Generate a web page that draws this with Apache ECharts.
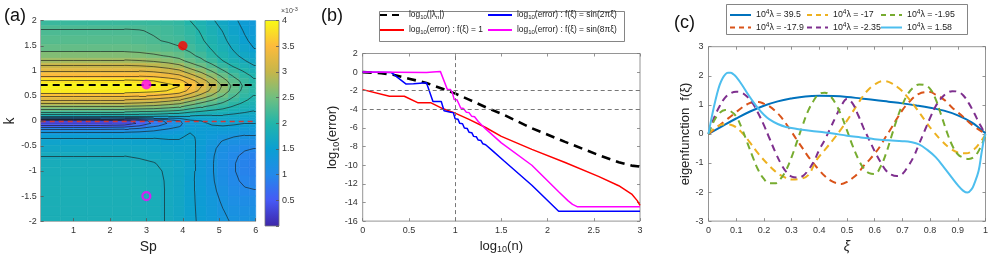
<!DOCTYPE html>
<html><head><meta charset="utf-8">
<script src="https://cdn.jsdelivr.net/npm/echarts@6.0.0/dist/echarts.min.js"></script>
<style>html,body{margin:0;padding:0;background:#fff;}#chart{width:998px;height:259px;}</style>
</head><body><div id="chart"></div>
<script>
// ---------------- Panel (a): field on (Sp, k) grid, values in units of 1e-3 ----------------
const spCols = [0.3, 1.0, 1.75, 2.4, 2.8, 3.2, 3.6, 3.9, 4.2, 4.5, 4.8, 5.1, 5.4, 5.7, 5.95];
const kRows = [2.0, 1.8, 1.6, 1.45, 1.3, 1.2, 1.1, 1.0, 0.9, 0.8, 0.7, 0.6, 0.5, 0.42, 0.35, 0.28, 0.22, 0.16, 0.1, 0.05, 0.0, -0.05, -0.1, -0.16, -0.24, -0.32, -0.42, -0.55, -0.7, -0.85, -1.0, -1.2, -1.4, -1.6, -1.8, -2.0];
const fieldCols = [
  [2.15,2.27,2.33,2.42,2.6,2.78,3.02,3.25,3.5,3.8, 3.95,3.88,3.55,3.25,3.0,2.7,2.45,2.15,1.85,1.2, 0.35,0.25,0.55,0.95,1.3,1.48,1.58,1.66,1.75,1.8, 1.82,1.84,1.85,1.85,1.85,1.85],
  [2.15,2.27,2.33,2.42,2.6,2.78,3.02,3.25,3.5,3.8, 3.95,3.88,3.55,3.25,3.0,2.7,2.45,2.15,1.85,1.2, 0.35,0.25,0.55,0.95,1.3,1.48,1.58,1.66,1.75,1.8, 1.82,1.84,1.85,1.85,1.85,1.85],
  [2.15,2.27,2.33,2.42,2.6,2.78,3.02,3.25,3.5,3.8, 3.95,3.88,3.55,3.25,3.0,2.7,2.45,2.15,1.85,1.2, 0.35,0.25,0.55,0.95,1.3,1.48,1.58,1.66,1.75,1.8, 1.82,1.84,1.85,1.85,1.85,1.85],
  [2.15,2.27,2.33,2.42,2.6,2.78,3.02,3.25,3.5,3.8, 3.95,3.88,3.55,3.25,3.0,2.7,2.45,2.15,1.85,1.25, 0.42,0.32,0.6,0.98,1.3,1.48,1.58,1.66,1.75,1.8, 1.82,1.84,1.85,1.85,1.85,1.85],
  [2.15,2.26,2.3,2.4,2.58,2.76,3.0,3.24,3.48,3.78, 3.93,3.86,3.52,3.22,2.97,2.68,2.42,2.13,1.85,1.3, 0.6,0.55,0.75,1.05,1.32,1.48,1.57,1.65,1.73,1.79, 1.81,1.83,1.84,1.84,1.84,1.84],
  [2.14,2.23,2.27,2.36,2.54,2.72,2.96,3.2,3.45,3.75, 3.9,3.82,3.48,3.18,2.93,2.65,2.4,2.12,1.85,1.38, 0.85,0.8,0.95,1.15,1.35,1.48,1.56,1.63,1.7,1.76, 1.79,1.8,1.81,1.81,1.81,1.81],
  [2.13,2.2,2.23,2.32,2.48,2.65,2.88,3.12,3.38,3.65, 3.82,3.74,3.4,3.1,2.85,2.58,2.35,2.08,1.8,1.45, 1.08,1.02,1.1,1.25,1.38,1.47,1.53,1.6,1.66,1.7, 1.72,1.73,1.73,1.73,1.73,1.73],
  [2.1,2.16,2.2,2.27,2.42,2.57,2.8,3.04,3.3,3.58, 3.76,3.66,3.32,3.02,2.78,2.52,2.3,2.04,1.78,1.5, 1.22,1.18,1.22,1.32,1.42,1.48,1.52,1.57,1.62,1.65, 1.66,1.67,1.67,1.67,1.67,1.67],
  [2.0,2.08,2.12,2.2,2.3,2.42,2.62,2.85,3.1,3.36, 3.52,3.42,3.12,2.85,2.62,2.38,2.18,1.95,1.75,1.6, 1.45,1.42,1.42,1.45,1.5,1.53,1.55,1.56,1.57,1.57, 1.56,1.55,1.55,1.55,1.55,1.55],
  [1.9,1.98,2.03,2.1,2.2,2.3,2.47,2.68,2.9,3.12, 3.27,3.18,2.92,2.68,2.47,2.27,2.1,1.9,1.72,1.6, 1.5,1.47,1.46,1.46,1.46,1.46,1.45,1.44,1.43,1.42, 1.42,1.42,1.43,1.44,1.45,1.46],
  [1.78,1.86,1.92,1.98,2.06,2.15,2.3,2.48,2.68,2.88, 3.0,2.93,2.72,2.52,2.35,2.17,2.02,1.86,1.72,1.62, 1.55,1.52,1.49,1.46,1.42,1.38,1.34,1.3,1.28,1.27, 1.27,1.28,1.3,1.33,1.36,1.38],
  [1.66,1.74,1.8,1.86,1.93,2.0,2.12,2.27,2.44,2.6, 2.72,2.66,2.5,2.35,2.22,2.08,1.96,1.83,1.72,1.65, 1.58,1.54,1.5,1.45,1.38,1.3,1.23,1.17,1.13,1.12, 1.12,1.14,1.18,1.22,1.26,1.29],
  [1.54,1.6,1.66,1.72,1.8,1.87,1.97,2.1,2.22,2.35, 2.42,2.38,2.27,2.17,2.07,1.97,1.88,1.78,1.7,1.64, 1.58,1.53,1.48,1.42,1.34,1.25,1.16,1.08,1.03,1.01, 1.01,1.03,1.07,1.13,1.18,1.22],
  [1.43,1.48,1.53,1.6,1.68,1.76,1.86,1.97,2.07,2.16, 2.2,2.17,2.1,2.03,1.96,1.89,1.82,1.74,1.67,1.61, 1.56,1.5,1.45,1.38,1.3,1.21,1.11,1.02,0.96,0.94, 0.94,0.97,1.02,1.1,1.16,1.2],
  [1.36,1.4,1.45,1.5,1.58,1.66,1.76,1.86,1.96,2.03, 2.07,2.05,1.99,1.94,1.89,1.83,1.77,1.71,1.65,1.6, 1.55,1.5,1.45,1.38,1.3,1.21,1.1,1.0,0.93,0.9, 0.91,0.95,1.01,1.1,1.17,1.22]
];
const spRange = [0.1, 6];
const kRange = [-2, 2];
const contourLevels = [0.5, 0.75, 1, 1.25, 1.5, 1.75, 2, 2.25, 2.5, 2.75, 3, 3.25, 3.5, 3.75];
const aXTicks = [1, 2, 3, 4, 5, 6];
const aDashedK = 0.725;     // black dashed line
const aZeroK = 0;           // red dashed line
const aPointFilledMagenta = [3, 0.725];
const aPointRed = [4, 1.5];
const aPointOpenMagenta = [3, -1.5];
const colorbarRange = [0, 4];

// ---------------- Panel (b) ----------------
const bLambda = [[0,0],[0.2,-0.12],[0.33,-0.29],[0.5,-0.7],[0.69,-1.17],[0.87,-1.81],[1.01,-2.34],[1.15,-2.95],[1.37,-3.94],[1.53,-4.6],[1.83,-6.03],[2.19,-7.49],[2.55,-8.9],[2.77,-9.68],[2.91,-10.04],[3,-10.15]];
const bErrOne = [[0,-1.88],[0.29,-2.59],[0.45,-2.59],[0.6,-3.3],[0.74,-3.3],[0.87,-3.94],[1.0,-4.4],[1.15,-5.07],[1.33,-5.95],[1.5,-6.9],[1.83,-8.3],[2.19,-9.7],[2.55,-11.2],[2.77,-12.2],[2.91,-13.1],[2.97,-13.8],[3,-14.3]];
const bErrSin2 = [[0,0],[0.31,-0.05],[0.47,-1.28],[0.55,-1.25],[0.69,-1.15],[0.71,-1.3],[0.76,-3.15],[0.85,-3.15],[0.88,-4.15],[0.95,-4.3],[0.98,-4.35],[1.0,-5.0],[1.03,-5.05],[1.05,-5.5],[1.08,-5.55],[1.1,-6.0],[1.13,-6.05],[1.15,-6.45],[1.18,-6.5],[1.2,-6.9],[1.23,-6.95],[1.25,-7.3],[1.28,-7.35],[1.3,-7.7],[1.33,-7.8],[1.4,-8.4],[1.53,-9.55],[1.83,-12.15],[2.12,-14.94],[3,-14.94]];
const bErrSin8 = [[0,0],[0.69,-0.04],[0.76,0.02],[0.84,0.08],[0.85,0.05],[0.915,-1.85],[0.95,-1.87],[0.97,-2.2],[0.99,-2.95],[1.02,-2.98],[1.04,-3.4],[1.06,-3.85],[1.09,-3.9],[1.12,-4.3],[1.15,-4.35],[1.18,-4.75],[1.21,-4.8],[1.25,-5.3],[1.33,-6.1],[1.5,-7.6],[1.83,-10.0],[2.12,-12.85],[2.22,-13.8],[2.27,-14.2],[2.32,-14.45],[3,-14.45]];
const bRefY = [-2, -4];
const bRefX = [1];

// ---------------- Panel (c) ----------------
const cMode395 = [[0,0],[0.05,0.27],[0.1,0.53],[0.15,0.77],[0.2,0.97],[0.25,1.12],[0.3,1.22],[0.35,1.29],[0.4,1.31],[0.45,1.3],[0.5,1.27],[0.55,1.22],[0.6,1.17],[0.65,1.11],[0.7,1.05],[0.75,0.98],[0.8,0.9],[0.85,0.8],[0.9,0.64],[0.95,0.4],[0.98,0.18],[1,0.02]];
const cMode179 = [[0,0],[0.02,0.15],[0.04,0.3],[0.06,0.45],[0.08,0.6],[0.1,0.75],[0.12,0.9],[0.14,1.02],[0.16,1.09],[0.18,1.1],[0.2,1.04],[0.22,0.95],[0.24,0.8],[0.26,0.6],[0.28,0.35],[0.3,0.07],[0.32,-0.22],[0.34,-0.5],[0.36,-0.78],[0.38,-1.02],[0.4,-1.25],[0.42,-1.45],[0.44,-1.6],[0.46,-1.69],[0.48,-1.72],[0.5,-1.65],[0.52,-1.52],[0.54,-1.35],[0.56,-1.1],[0.58,-0.9],[0.6,-0.68],[0.62,-0.42],[0.64,-0.1],[0.66,0.2],[0.68,0.52],[0.7,0.82],[0.72,1.05],[0.74,1.25],[0.76,1.38],[0.78,1.43],[0.8,1.44],[0.82,1.35],[0.84,1.25],[0.86,1.1],[0.88,0.9],[0.9,0.75],[0.92,0.58],[0.94,0.4],[0.96,0.25],[0.98,0.12],[1,0]];
const cMode17 = [[0,0],[0.03,0.25],[0.06,0.33],[0.09,0.28],[0.12,0.05],[0.15,-0.3],[0.18,-0.68],[0.21,-1.0],[0.24,-1.28],[0.27,-1.47],[0.3,-1.57],[0.33,-1.55],[0.36,-1.42],[0.39,-0.9],[0.42,-0.55],[0.45,-0.2],[0.48,0.18],[0.51,0.6],[0.54,1.05],[0.57,1.45],[0.6,1.7],[0.63,1.82],[0.66,1.75],[0.69,1.55],[0.72,1.25],[0.75,0.88],[0.78,0.48],[0.81,0.1],[0.84,-0.22],[0.87,-0.48],[0.9,-0.64],[0.93,-0.67],[0.96,-0.52],[0.98,-0.3],[1,-0.02]];
const cMode235 = [[0,0],[0.02,0.55],[0.04,0.95],[0.06,1.25],[0.08,1.4],[0.1,1.45],[0.12,1.42],[0.14,1.28],[0.16,1.05],[0.18,0.7],[0.2,0.3],[0.22,-0.15],[0.24,-0.6],[0.26,-1.0],[0.28,-1.3],[0.3,-1.47],[0.32,-1.5],[0.34,-1.45],[0.36,-1.25],[0.38,-0.95],[0.4,-0.55],[0.42,-0.2],[0.44,0.2],[0.46,0.6],[0.48,0.98],[0.5,1.2],[0.52,1.05],[0.54,0.65],[0.56,0.2],[0.58,-0.2],[0.6,-0.6],[0.62,-0.95],[0.64,-1.25],[0.66,-1.4],[0.68,-1.45],[0.7,-1.38],[0.72,-1.12],[0.74,-0.8],[0.76,-0.35],[0.78,0.1],[0.8,0.55],[0.82,0.95],[0.84,1.22],[0.86,1.4],[0.88,1.47],[0.9,1.45],[0.92,1.32],[0.94,1.05],[0.96,0.7],[0.98,0.32],[1,0]];
const cMode195 = [[0,0],[0.02,0.45],[0.04,0.72],[0.06,0.82],[0.08,0.78],[0.1,0.6],[0.12,0.2],[0.14,-0.3],[0.16,-0.8],[0.18,-1.25],[0.2,-1.55],[0.22,-1.7],[0.24,-1.7],[0.26,-1.55],[0.28,-1.25],[0.3,-0.8],[0.32,-0.25],[0.34,0.3],[0.36,0.8],[0.38,1.15],[0.4,1.38],[0.42,1.42],[0.44,1.3],[0.46,1.02],[0.48,0.62],[0.5,0.12],[0.52,-0.4],[0.54,-0.85],[0.56,-1.18],[0.58,-1.35],[0.6,-1.38],[0.62,-1.15],[0.64,-0.7],[0.66,-0.1],[0.68,0.5],[0.7,1.0],[0.72,1.38],[0.74,1.6],[0.76,1.7],[0.78,1.68],[0.8,1.55],[0.82,1.2],[0.84,0.65],[0.86,0.08],[0.88,-0.4],[0.9,-0.7],[0.92,-0.82],[0.94,-0.86],[0.96,-0.78],[0.98,-0.5],[1,-0.05]];
const cMode158 = [[0,0],[0.01,0.5],[0.02,0.95],[0.03,1.35],[0.04,1.68],[0.05,1.9],[0.06,2.04],[0.07,2.1],[0.08,2.1],[0.09,2.05],[0.1,1.96],[0.12,1.7],[0.14,1.4],[0.16,1.12],[0.18,0.87],[0.2,0.66],[0.22,0.5],[0.25,0.34],[0.28,0.24],[0.32,0.17],[0.36,0.12],[0.4,0.07],[0.45,0.01],[0.5,-0.06],[0.55,-0.12],[0.6,-0.18],[0.65,-0.22],[0.7,-0.25],[0.73,-0.28],[0.76,-0.36],[0.79,-0.55],[0.82,-0.8],[0.85,-1.15],[0.88,-1.52],[0.9,-1.76],[0.92,-1.96],[0.935,-2.02],[0.95,-1.9],[0.96,-1.7],[0.975,-1.28],[0.985,-0.7],[0.995,-0.15],[1,0]];

// ---------------- styling ----------------
const FONT = '"Liberation Sans", Arial, Helvetica, sans-serif';
const parula = ['#3e26a8','#4659f5','#2389ea','#0b9fd2','#22b5aa','#71bf80','#c6b64a','#fdbb3c','#f9fb14'];
const AXC = '#7a7a7a', LBC = '#333';

// cell edges derived from cell centres
const spEdges = [spRange[0]];
for (let i = 1; i < spCols.length; i++) spEdges.push((spCols[i-1] + spCols[i]) / 2);
spEdges.push(spRange[1]);
const kEdges = [kRange[1]];
for (let j = 1; j < kRows.length; j++) kEdges.push((kRows[j-1] + kRows[j]) / 2);
kEdges.push(kRange[0]);

const heatData = [];
spCols.forEach((sp, i) => kRows.forEach((k, j) => heatData.push([sp, k, fieldCols[i][j], i, j])));

// contour segments (marching squares on the cell-centre grid, padded to axis edges)
function contourSegments() {
  const xs = [spRange[0]].concat(spCols, [spRange[1]]);
  const ys = kRows;
  const g = ys.map((_, j) => [fieldCols[0][j]].concat(fieldCols.map(c => c[j]), [fieldCols[fieldCols.length-1][j]]));
  const segs = [];
  contourLevels.forEach(L => {
    for (let j = 0; j < ys.length - 1; j++) for (let i = 0; i < xs.length - 1; i++) {
      const P = [[xs[i], ys[j], g[j][i]], [xs[i+1], ys[j], g[j][i+1]], [xs[i+1], ys[j+1], g[j+1][i+1]], [xs[i], ys[j+1], g[j+1][i]]];
      const pts = [];
      for (let e = 0; e < 4; e++) {
        const a = P[e], b = P[(e+1) % 4];
        if ((a[2] >= L) !== (b[2] >= L)) {
          const t = (L - a[2]) / (b[2] - a[2]);
          pts.push([a[0] + t * (b[0] - a[0]), a[1] + t * (b[1] - a[1])]);
        }
      }
      if (pts.length === 2) segs.push(pts);
      else if (pts.length === 4) {
        const c = (P[0][2] + P[1][2] + P[2][2] + P[3][2]) / 4;
        if ((c >= L) === (P[0][2] >= L)) { segs.push([pts[0], pts[1]]); segs.push([pts[2], pts[3]]); }
        else { segs.push([pts[0], pts[3]]); segs.push([pts[1], pts[2]]); }
      }
    }
  });
  return segs;
}

function valAxis(o) {
  return Object.assign({
    type: 'value', splitLine: { show: false }, axisLine: { show: false, onZero: false },
    axisTick: { show: true, inside: true, length: 3, lineStyle: { color: AXC, width: 0.8 } },
    axisLabel: { fontSize: 9, color: LBC, margin: 5, fontFamily: FONT }
  }, o);
}
const subRich = { sub: { fontSize: 9, padding: [7, 0, 0, 0] } };

const chart = echarts.init(document.getElementById('chart'), null, { renderer: 'canvas' });

const legendB = {
  lam: 'log{sub|10}(|λ{sub|n}|)',
  err1: 'log{sub|10}(error) : f(ξ) = 1',
  sin2: 'log{sub|10}(error) : f(ξ) = sin(2πξ)',
  sin8: 'log{sub|10}(error) : f(ξ) = sin(8πξ)'
};
const legendC = {
  m395: '10{sup|4}λ = 39.5', m179: '10{sup|4}λ = -17.9', m17: '10{sup|4}λ = -17',
  m235: '10{sup|4}λ = -2.35', m195: '10{sup|4}λ = -1.95', m158: '10{sup|4}λ = 1.58'
};
const legendDash = { lam: [7, 5], m179: [5, 4], m17: [5, 4], m235: [5, 4], m195: [5, 4] };
const legTextB = { fontSize: 8.4, color: '#222', fontFamily: FONT, rich: { sub: { fontSize: 6, padding: [4, 0, 0, 0] } } };
const legTextC = { fontSize: 8.8, color: '#222', fontFamily: FONT, rich: { sup: { fontSize: 6.5, padding: [0, 0, 5, 0] } } };
function legend(left, top, names, fmt, ts, w, gap) {
  return { left, top, orient: 'vertical', padding: 0, itemWidth: w, itemHeight: 10, itemGap: gap,
    selectedMode: false, itemStyle: { opacity: 0 },
    data: names.map(n => legendDash[n] ? { name: n, lineStyle: { type: legendDash[n] } } : { name: n }),
    formatter: n => fmt[n], textStyle: ts };
}

function lineSeries(name, data, color, width, type, xi, yi, smooth) {
  return { type: 'line', name, data, xAxisIndex: xi, yAxisIndex: yi, symbol: 'none', smooth: smooth || false,
    lineStyle: { color, width, type: type || 'solid' }, itemStyle: { color }, silent: true };
}

const option = {
  animation: false,
  textStyle: { fontFamily: FONT },
  grid: [
    { left: 40.7, top: 20.7, width: 215, height: 205 },
    { left: 265, top: 20.5, width: 14, height: 205.5 },
    { left: 362.7, top: 53.5, width: 277.3, height: 169.2, show: true, borderColor: AXC, borderWidth: 0.8, backgroundColor: 'transparent' },
    { left: 708.5, top: 46.7, width: 277, height: 176.6, show: true, borderColor: AXC, borderWidth: 0.8, backgroundColor: 'transparent' }
  ],
  xAxis: [
    valAxis({ gridIndex: 0, min: spRange[0], max: spRange[1], z: 6,
      axisLine: { show: true, onZero: false, lineStyle: { color: '#aaa', width: 0.8 } },
      axisTick: { show: true, inside: true, length: 3, customValues: aXTicks, lineStyle: { color: '#555', width: 0.8 } },
      axisLabel: { fontSize: 9, color: LBC, margin: 5, customValues: aXTicks },
      name: 'Sp', nameLocation: 'middle', nameGap: 15, nameTextStyle: { fontSize: 14, color: '#222' } }),
    { gridIndex: 1, type: 'value', min: 0, max: 1, show: false },
    valAxis({ gridIndex: 2, min: 0, max: 3, interval: 0.5, axisLabel: { fontSize: 9, color: LBC, margin: 4.5 },
      name: 'log{sub|10}(n)', nameLocation: 'middle', nameGap: 14, nameTextStyle: { fontSize: 13, color: '#222', rich: subRich } }),
    valAxis({ gridIndex: 2, position: 'top', min: 0, max: 3, interval: 0.5, axisLabel: { show: false } }),
    valAxis({ gridIndex: 3, min: 0, max: 1, interval: 0.1, axisLabel: { fontSize: 9, color: LBC, margin: 5 },
      name: 'ξ', nameLocation: 'middle', nameGap: 16, nameTextStyle: { fontSize: 14, color: '#222', fontStyle: 'italic' } }),
    valAxis({ gridIndex: 3, position: 'top', min: 0, max: 1, interval: 0.1, axisLabel: { show: false } })
  ],
  yAxis: [
    valAxis({ gridIndex: 0, min: kRange[0], max: kRange[1], interval: 0.5, z: 6,
      axisLine: { show: true, onZero: false, lineStyle: { color: '#aaa', width: 0.8 } },
      axisTick: { show: true, inside: true, length: 3, lineStyle: { color: '#555', width: 0.8 } },
      axisLabel: { fontSize: 9, color: LBC, margin: 4 },
      name: 'k', nameLocation: 'middle', nameGap: 24, nameTextStyle: { fontSize: 14, color: '#222' } }),
    valAxis({ gridIndex: 1, position: 'right', min: colorbarRange[0], max: colorbarRange[1], interval: 0.5, z: 6,
      axisTick: { show: true, inside: true, length: 3, lineStyle: { color: '#555', width: 0.8 } },
      axisLabel: { fontSize: 9, color: LBC, margin: 3, formatter: v => v === 0 ? '' : String(v) } }),
    valAxis({ gridIndex: 2, min: -16, max: 2, interval: 2, axisLabel: { fontSize: 9, color: LBC, margin: 5 },
      name: 'log{sub|10}(error)', nameLocation: 'middle', nameGap: 19, nameTextStyle: { fontSize: 13, color: '#222', rich: subRich } }),
    valAxis({ gridIndex: 2, position: 'right', min: -16, max: 2, interval: 2, axisLabel: { show: false } }),
    valAxis({ gridIndex: 3, min: -3, max: 3, interval: 1, axisLabel: { fontSize: 9, color: LBC, margin: 5 },
      name: 'eigenfunction  f(ξ)', nameLocation: 'middle', nameGap: 12, nameTextStyle: { fontSize: 13, color: '#222' } }),
    valAxis({ gridIndex: 3, position: 'right', min: -3, max: 3, interval: 1, axisLabel: { show: false } })
  ],
  visualMap: [{ type: 'continuous', show: false, seriesIndex: 0, dimension: 2, min: colorbarRange[0], max: colorbarRange[1], inRange: { color: parula } }],
  legend: [
    legend(379, 11, ['lam', 'err1'], legendB, legTextB, 24, 6),
    legend(487, 11, ['sin2', 'sin8'], legendB, legTextB, 24, 6),
    legend(729, 9, ['m395', 'm179'], legendC, legTextC, 21, 2),
    legend(806, 9, ['m17', 'm235'], legendC, legTextC, 21, 2),
    legend(880, 9, ['m195', 'm158'], legendC, legTextC, 21, 2)
  ],
  graphic: [
    { type: 'rect', shape: { x: 379.5, y: 11.5, width: 245, height: 30 }, style: { fill: '#fff', stroke: '#666', lineWidth: 0.8 }, z: -1 },
    { type: 'rect', shape: { x: 726.5, y: 4.5, width: 241, height: 30 }, style: { fill: '#fff', stroke: '#666', lineWidth: 0.8 }, z: -1 },
    { type: 'text', x: 4, y: 7, style: { text: '(a)', fontSize: 18, fill: '#111', fontFamily: FONT } },
    { type: 'text', x: 321, y: 7, style: { text: '(b)', fontSize: 18, fill: '#111', fontFamily: FONT } },
    { type: 'text', x: 674, y: 14, style: { text: '(c)', fontSize: 18, fill: '#111', fontFamily: FONT } },
    { type: 'text', x: 281, y: 6, style: { text: '×10{s|-3}', fontSize: 7, fill: '#444', fontFamily: FONT, rich: { s: { fontSize: 5.5, padding: [0, 0, 4, 0] } } } }
  ],
  series: [
    { type: 'custom', name: 'field', xAxisIndex: 0, yAxisIndex: 0, data: heatData, encode: { x: 0, y: 1 }, silent: true, z: 1,
      renderItem: (params, api) => {
        const i = api.value(3), j = api.value(4);
        const p0 = api.coord([spEdges[i], kEdges[j]]);
        const p1 = api.coord([spEdges[i+1], kEdges[j+1]]);
        const cs = params.coordSys;
        const shape = echarts.graphic.clipRectByRect({ x: p0[0], y: p0[1], width: p1[0] - p0[0], height: p1[1] - p0[1] },
          { x: cs.x, y: cs.y, width: cs.width, height: cs.height });
        if (!shape) return null;
        const col = api.visual('color');
        return { type: 'rect', shape, style: { fill: col, stroke: col, lineWidth: 0.6 } };
      } },
    { type: 'lines', coordinateSystem: 'cartesian2d', xAxisIndex: 0, yAxisIndex: 0, polyline: false, silent: true, z: 3,
      lineStyle: { color: '#1a1a1a', width: 0.7, opacity: 0.9 }, data: contourSegments().map(s => ({ coords: s })) },
    { type: 'line', xAxisIndex: 0, yAxisIndex: 0, data: [], z: 4, silent: true,
      markLine: { silent: true, symbol: 'none', label: { show: false }, animation: false,
        data: [ { yAxis: aDashedK, lineStyle: { color: '#000', type: [7, 5], width: 2.2 } },
                { yAxis: aZeroK, lineStyle: { color: '#d03838', type: [5, 4], width: 1.4 } } ] } },
    { type: 'scatter', xAxisIndex: 0, yAxisIndex: 0, z: 5, silent: true,
      data: [
        { value: aPointFilledMagenta, symbolSize: 10, itemStyle: { color: '#ff00ff' } },
        { value: aPointRed, symbolSize: 9.5, itemStyle: { color: '#ff0000' } },
        { value: aPointOpenMagenta, symbolSize: 8, itemStyle: { color: 'transparent', borderColor: '#ff00ff', borderWidth: 2.2 } }
      ] },
    { type: 'custom', name: 'colorbar', xAxisIndex: 1, yAxisIndex: 1, data: [[0.5, 2]], silent: true, z: 1,
      renderItem: (params, api) => {
        const cs = params.coordSys;
        const stops = parula.map((c, idx) => ({ offset: idx / (parula.length - 1), color: c }));
        return { type: 'rect', shape: { x: cs.x, y: cs.y, width: cs.width, height: cs.height },
          style: { fill: new echarts.graphic.LinearGradient(0, 1, 0, 0, stops), stroke: '#777', lineWidth: 0.8 } };
      } },
    { type: 'line', xAxisIndex: 2, yAxisIndex: 2, data: [], z: 1, silent: true,
      markLine: { silent: true, symbol: 'none', label: { show: false }, animation: false,
        lineStyle: { color: '#777', type: [4, 3], width: 1 },
        data: bRefY.map(v => ({ yAxis: v })).concat(bRefX.map(v => ({ xAxis: v }))) } },
    lineSeries('lam', bLambda, '#000', 2.6, [9, 6], 2, 2),
    lineSeries('err1', bErrOne, '#ff0000', 1.5, 'solid', 2, 2),
    lineSeries('sin2', bErrSin2, '#0000ff', 1.5, 'solid', 2, 2),
    lineSeries('sin8', bErrSin8, '#ff00ff', 1.5, 'solid', 2, 2),
    lineSeries('m395', cMode395, '#0072BD', 2, 'solid', 4, 4, 0.4),
    lineSeries('m179', cMode179, '#D95319', 2, [7, 5], 4, 4, 0.4),
    lineSeries('m17', cMode17, '#EDB120', 2, [7, 5], 4, 4, 0.4),
    lineSeries('m235', cMode235, '#7E2F8E', 2, [7, 5], 4, 4, 0.4),
    lineSeries('m195', cMode195, '#77AC30', 2, [7, 5], 4, 4, 0.4),
    lineSeries('m158', cMode158, '#4DBEEE', 2, 'solid', 4, 4, 0.4)
  ]
};
chart.setOption(option);
</script>
</body></html>
